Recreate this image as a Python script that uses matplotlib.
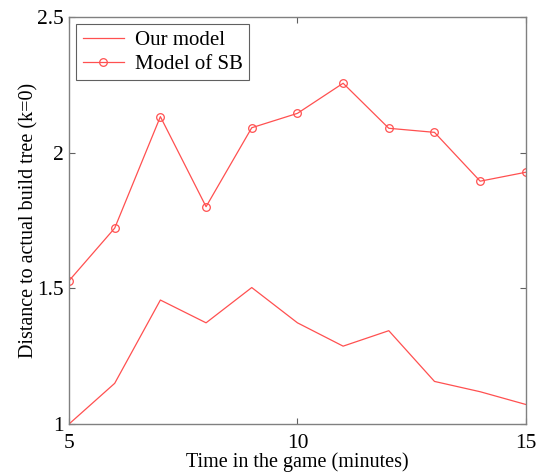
import numpy as np
import matplotlib
matplotlib.use("Agg")
from matplotlib import pyplot as plt

# minutes into the game
minutes = [5, 6, 7, 8, 9, 10, 11, 12, 13, 14, 15]
# distance to the actual build tree (k=0)
our_model = [1.0, 1.150, 1.457, 1.373, 1.503, 1.373, 1.287, 1.344, 1.157, 1.119, 1.072]
model_sb = [1.528, 1.722, 2.133, 1.801, 2.092, 2.145, 2.256, 2.090, 2.075, 1.895, 1.928]

plt.rcParams['font.family'] = ['Liberation Serif', 'DejaVu Serif']

fig = plt.figure(figsize=(5.4, 4.76), dpi=100)
ax = fig.add_axes([0.1278, 0.1092, 0.846, 0.855])

red = '#ff5050'
ax.plot(minutes, our_model, color=red, lw=0.9, label='Our model')
ax.plot(minutes, model_sb, color=red, lw=0.9, marker='o', markersize=5.5,
        markerfacecolor='none', markeredgecolor=red, markeredgewidth=0.9,
        label='Model of SB')

ax.set_xlim(5, 15)
ax.set_ylim(1, 2.5)
ax.set_xticks([5, 10, 15])
ax.set_yticks([1, 1.5, 2, 2.5])
ax.set_xticklabels(['5', '10', '15'])
ax.set_yticklabels(['1', '1.5', '2', '2.5'])

for s in ax.spines.values():
    s.set_color('#808080')
    s.set_linewidth(1.0)
ax.tick_params(direction='in', length=4, width=0.8, color='#606060',
               top=True, right=True, labelsize=15.5)
ax.tick_params(axis='x', pad=7)
ax.tick_params(axis='y', pad=4)

ax.set_xlabel('Time in the game (minutes)', fontsize=14.5, labelpad=0)
ax.set_ylabel('Distance to actual build tree (k=0)', fontsize=14.5, labelpad=-1)

leg = ax.legend(loc='upper left', fontsize=15, fancybox=False,
                framealpha=1, edgecolor='#606060', borderaxespad=0.35,
                handlelength=2.0, handletextpad=0.5, borderpad=0.3,
                labelspacing=0.2)
leg.get_frame().set_linewidth(0.8)

fig.savefig('out.png', dpi=100)
